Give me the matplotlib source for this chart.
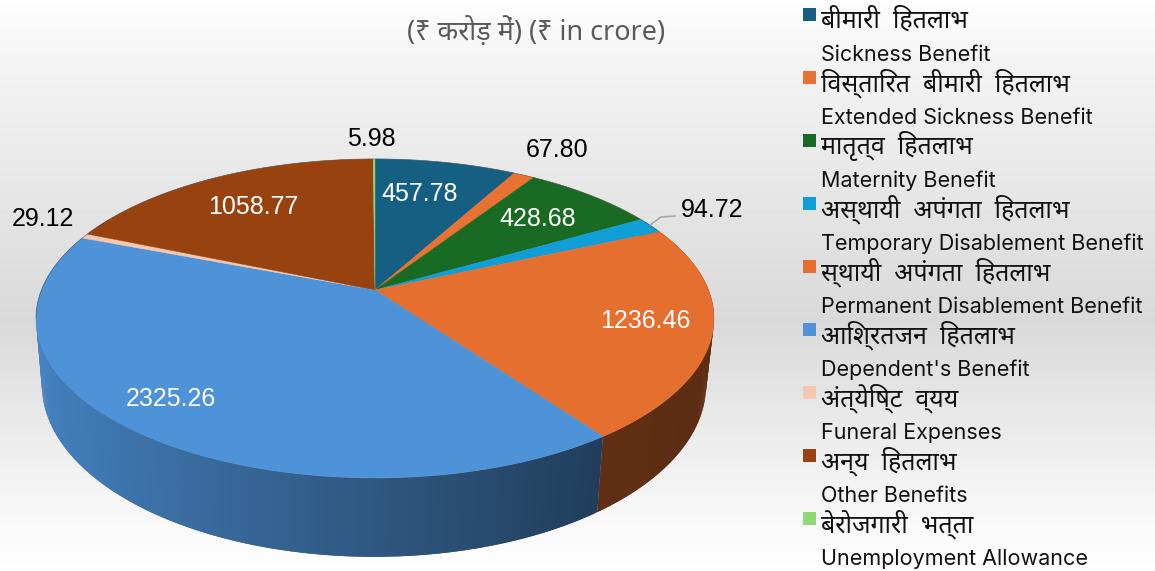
"""Pie 3D : prestations en crores, legende bilingue."""
import re

import matplotlib
matplotlib.use("Agg")
import matplotlib.pyplot as plt
import numpy as np
from matplotlib.patches import Polygon, Rectangle

values = [457.78, 67.80, 428.68, 94.72, 1236.46, 2325.26, 29.12, 1058.77, 5.98]
value_labels = ["457.78", "67.80", "428.68", "94.72", "1236.46", "2325.26", "29.12", "1058.77", "5.98"]
colors = ["#156082", "#E97132", "#196B24", "#0F9ED5", "#E56F2E", "#4E92D8", "#F6C6AD", "#984210", "#8ED973"]
names_hi = ["बीमारी  हितलाभ", "विस्तारित  बीमारी  हितलाभ", "मातृत्व  हितलाभ",
            "अस्थायी  अपंगता  हितलाभ", "स्थायी  अपंगता  हितलाभ", "आश्रितजन  हितलाभ",
            "अंत्येष्टि  व्यय", "अन्य  हितलाभ", "बेरोजगारी  भत्ता"]
names_en = ["Sickness Benefit", "Extended Sickness Benefit", "Maternity Benefit",
            "Temporary Disablement Benefit", "Permanent Disablement Benefit", "Dependent's Benefit",
            "Funeral Expenses", "Other Benefits", "Unemployment Allowance"]
title = "(₹ करोड़ में) (₹ in crore)"

# position des etiquettes en pixels (centre), couleur
label_pos = [(420, 194, "white"), (557, 150, "black"), (538, 219, "white"), (712, 210, "black"),
             (645, 321, "white"), (171, 399, "white"), (43, 219, "black"), (253, 207, "white"),
             (371, 139, "black")]

K = 0.1787  # perspective


def deva(s):
    # matplotlib ne fait pas de shaping : la matra i passe avant le groupe de consonnes
    return re.sub(r"((?:[क-ह]़?्)*[क-ह]़?)ि", "ि\\1", s)


def project(theta, x0, y0, A, B):
    u, v = np.sin(theta), np.cos(theta)
    w = 1 + K * v
    return x0 + A * u / w, y0 - B * v / w


def top(theta):
    return project(theta, 375, 290, 333.5, 154.4)


def bottom(theta):
    return project(theta, 374, 354.2, 326.7, 166.4)


def wall_shade(theta):
    return np.interp(np.sin(theta), [-1, 0.585, 1], [0.9, 0.42, 0.40])


fig = plt.figure(figsize=(11.55, 5.71), dpi=100)
ax = fig.add_axes([0, 0, 1, 1])
ax.set_xlim(0, 1155)
ax.set_ylim(571, 0)
ax.axis("off")

# fond degrade vertical
grad = np.interp(np.arange(571), [0, 60, 320, 520, 570], [0.995, 0.955, 0.85, 0.975, 0.995])
ax.imshow(grad[:, None], cmap="gray", vmin=0, vmax=1, extent=(0, 1155, 571, 0), aspect="auto", zorder=0)

edges = np.radians(np.concatenate([[0], np.cumsum(values)]) / np.sum(values) * 360)

# paroi : chaque quad deborde sur le suivant pour eviter les coutures
base = [np.array(matplotlib.colors.to_rgb(c)) for c in colors]
for i in range(len(values)):
    lo, hi = max(edges[i], np.radians(60)), min(edges[i + 1], np.radians(300))
    if hi <= lo:
        continue
    ts = np.linspace(lo, hi, max(2, int(np.degrees(hi - lo) * 2)))
    step = ts[1] - ts[0]
    for t0, t1 in zip(ts[:-1], ts[1:]):
        t2 = min(t1 + step, hi)
        x0, y0 = top(np.array([t0, t1, t2]))
        x1, y1 = bottom(np.array([t2, t1, t0]))
        c = base[i] * wall_shade((t0 + t1) / 2)
        ax.add_patch(Polygon(np.column_stack([np.r_[x0, x1], np.r_[y0, y1]]),
                             facecolor=c, edgecolor="none", zorder=2))

# face superieure
for i in range(len(values)):
    ts = np.linspace(edges[i], edges[i + 1], max(3, int(np.degrees(edges[i + 1] - edges[i]) * 2)))
    x, y = top(ts)
    ax.add_patch(Polygon(np.column_stack([np.r_[375, x], np.r_[290, y]]),
                         facecolor=colors[i], edgecolor=colors[i], lw=0.3, zorder=3))

# liseré sur l'arriere
ts = np.radians(np.linspace(-100, 65, 200))
ax.plot(*top(ts), color="#555555", lw=0.6, alpha=0.6, zorder=4)

# ligne de rappel 94.72
ax.plot([650, 661, 675], [225, 217, 216], color="#A6A6A6", lw=1.1, zorder=4)

for txt, (x, y, c) in zip(value_labels, label_pos):
    ax.text(x, y, txt, color=c, fontsize=18, ha="center", va="center",
            family="Liberation Sans", zorder=5)

ax.text(536, 32, deva(title), color="#595959", fontsize=19.4, ha="center", va="center",
        family=["Noto Sans", "DejaVu Sans"], zorder=5)

# legende
for i, (hi, en) in enumerate(zip(names_hi, names_en)):
    y = 8 + 63 * i
    ax.add_patch(Rectangle((803, y), 13, 13, facecolor=colors[i], edgecolor="none", zorder=5))
    ax.text(821, y + 12, deva(hi), color="#111111", fontsize=18, ha="left", va="center",
            family=["Noto Sans", "DejaVu Sans"], zorder=5)
    ax.text(821, y + 47, en, color="#111111", fontsize=15.5, ha="left", va="center",
            family="Inter", zorder=5)

fig.savefig("out.png", dpi=100)
